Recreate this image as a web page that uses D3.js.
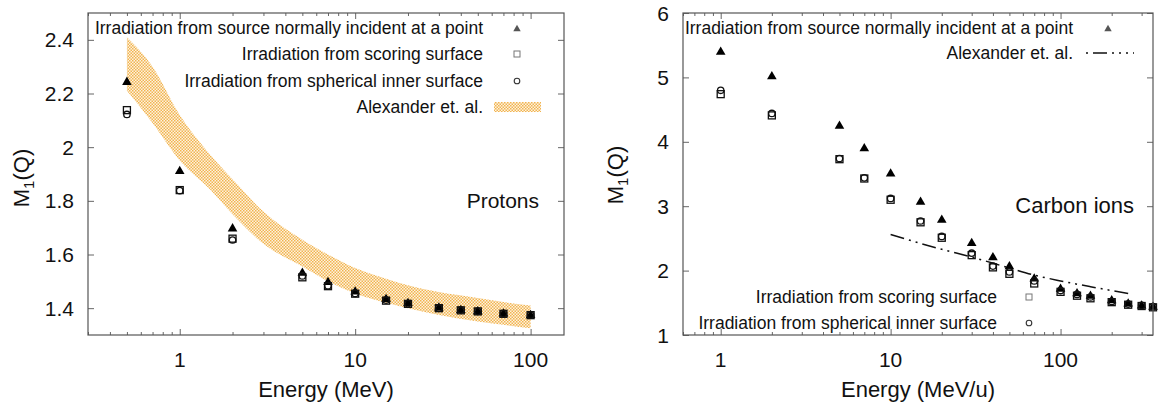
<!DOCTYPE html>
<html>
<head>
<meta charset="utf-8">
<script src="https://cdn.jsdelivr.net/npm/d3@7"></script>
<style>
  body { margin: 0; background: #fff; }
  svg { display: block; }
  text { font-family: "Liberation Sans", Arial, sans-serif; fill: #111; }
</style>
</head>
<body>
<svg id="chart" width="1158" height="408"></svg>
<script>
// ---- protons panel
const protonE = [0.5, 1, 2, 5, 7, 10, 15, 20, 30, 40, 50, 70, 100];
const protonPoint = [2.246, 1.914, 1.70, 1.535, 1.50, 1.465, 1.437, 1.422, 1.405, 1.396, 1.391, 1.383, 1.377];
const protonScoring = [2.138, 1.840, 1.659, 1.515, 1.482, 1.454, 1.428, 1.416, 1.400, 1.392, 1.388, 1.379, 1.374];
const protonSphere = [2.122, 1.838, 1.654, 1.520, 1.484, 1.455, 1.430, 1.417, 1.401, 1.393, 1.388, 1.380, 1.375];
// Alexander et. al. band (lower / upper edge)
const bandE = [0.5, 0.7, 1, 1.5, 2, 3, 5, 7, 10, 15, 20, 30, 50, 70, 100];
const bandLow = [2.21, 2.09, 1.95, 1.84, 1.75, 1.64, 1.555, 1.50, 1.455, 1.42, 1.40, 1.375, 1.35, 1.338, 1.325];
const bandHigh = [2.41, 2.30, 2.12, 1.97, 1.88, 1.76, 1.655, 1.60, 1.55, 1.51, 1.485, 1.46, 1.438, 1.423, 1.41];
const protonYTicks = [1.4, 1.6, 1.8, 2, 2.2, 2.4];

// ---- carbon panel
const carbonE = [1, 2, 5, 7, 10, 15, 20, 30, 40, 50, 70, 100, 125, 150, 200, 250, 300, 350];
const carbonPoint = [5.41, 5.03, 4.26, 3.91, 3.52, 3.08, 2.80, 2.44, 2.22, 2.08, 1.89, 1.73, 1.66, 1.62, 1.55, 1.50, 1.47, 1.45];
const carbonScoring = [4.74, 4.41, 3.73, 3.43, 3.10, 2.75, 2.51, 2.24, 2.05, 1.95, 1.80, 1.67, 1.61, 1.57, 1.51, 1.47, 1.45, 1.43];
const carbonSphere = [4.80, 4.44, 3.74, 3.44, 3.12, 2.77, 2.53, 2.27, 2.07, 1.98, 1.84, 1.69, 1.63, 1.59, 1.52, 1.48, 1.46, 1.44];
const carbonAlexE = [10, 20, 30, 50, 70, 100, 150, 200, 250];
const carbonAlex = [2.56, 2.33, 2.21, 2.04, 1.93, 1.84, 1.75, 1.69, 1.645];
const carbonYTicks = [1, 2, 3, 4, 5, 6];

const xTicks = [1, 10, 100];

const svg = d3.select("#chart");
const defs = svg.append("defs");
// checkered fill like gnuplot's pattern
const pat = defs.append("pattern").attr("id", "chk")
  .attr("width", 3).attr("height", 3).attr("patternUnits", "userSpaceOnUse");
pat.append("rect").attr("width", 3).attr("height", 3).attr("fill", "#fdf3e0");
pat.append("rect").attr("width", 1.5).attr("height", 1.5).attr("fill", "#f2b450");
pat.append("rect").attr("x", 1.5).attr("y", 1.5).attr("width", 1.5).attr("height", 1.5).attr("fill", "#f2b450");

function minorTicks(dom) {
  let out = [];
  for (let p = -1; p <= 3; p++) {
    for (let k = 2; k <= 9; k++) {
      let v = k * Math.pow(10, p);
      if (v > dom[0] && v < dom[1]) out.push(v);
    }
  }
  return out;
}

function panel(cfg) {
  const x = d3.scaleLog().domain(cfg.xDom).range([cfg.x0, cfg.x1]);
  const y = d3.scaleLinear().domain(cfg.yDom).range([cfg.y1, cfg.y0]);
  const g = svg.append("g");

  // axes, ticks drawn inward and mirrored
  const mk = (axis, tr) => {
    const a = g.append("g").attr("transform", tr).call(axis);
    a.select(".domain").remove();
    a.selectAll("line").attr("stroke", "#666");
    return a;
  };
  const minors = minorTicks(cfg.xDom);
  mk(d3.axisBottom(x).tickValues(xTicks).tickSize(-6).tickFormat(""), `translate(0,${cfg.y1})`);
  mk(d3.axisBottom(x).tickValues(minors).tickSize(-3).tickFormat(""), `translate(0,${cfg.y1})`);
  mk(d3.axisTop(x).tickValues(xTicks).tickSize(-6).tickFormat(""), `translate(0,${cfg.y0})`);
  mk(d3.axisTop(x).tickValues(minors).tickSize(-3).tickFormat(""), `translate(0,${cfg.y0})`);
  mk(d3.axisLeft(y).tickValues(cfg.yTicks).tickSize(-6).tickFormat(""), `translate(${cfg.x0},0)`);
  mk(d3.axisRight(y).tickValues(cfg.yTicks).tickSize(-6).tickFormat(""), `translate(${cfg.x1},0)`);

  g.selectAll(".xl").data(xTicks).join("text")
    .attr("x", d => x(d)).attr("y", 367)
    .attr("text-anchor", "middle").attr("font-size", 21)
    .text(d => d);
  g.selectAll(".yl").data(cfg.yTicks).join("text")
    .attr("x", cfg.x0 - 14).attr("y", d => y(d)).attr("dy", "0.36em")
    .attr("text-anchor", "end").attr("font-size", 21)
    .text(d => d);

  g.append("text").attr("x", (cfg.x0 + cfg.x1) / 2).attr("y", 397)
    .attr("text-anchor", "middle").attr("font-size", 22).text(cfg.xTitle);
  const yt = g.append("text")
    .attr("transform", `translate(${cfg.ylx},${cfg.yly}) rotate(-90)`)
    .attr("text-anchor", "middle").attr("font-size", 22);
  yt.append("tspan").text("M");
  yt.append("tspan").attr("font-size", 15).attr("dy", 5).text("1");
  yt.append("tspan").attr("dy", -5).text("(Q)");

  g.append("text").attr("x", cfg.tagX).attr("y", cfg.tagY)
    .attr("text-anchor", "end").attr("font-size", cfg.tagSize).text(cfg.tag);

  return {x, y, g};
}

function triangle(sel, size, fill) {
  return sel.attr("d", d3.symbol(d3.symbolTriangle).size(size)()).attr("fill", fill);
}

function markers(p, E, tri, sq, circ) {
  const g = p.g.append("g");
  g.selectAll(".t").data(E).join("path")
    .call(s => triangle(s, 40, "#000"))
    .attr("transform", (d, i) => `translate(${p.x(d)},${p.y(tri[i]) + 1})`);
  g.selectAll(".s").data(E).join("rect")
    .attr("x", d => p.x(d) - 3.5).attr("y", (d, i) => p.y(sq[i]) - 3.5)
    .attr("width", 7).attr("height", 7)
    .attr("fill", "none").attr("stroke", "#111").attr("stroke-width", 1.3);
  g.selectAll(".c").data(E).join("circle")
    .attr("cx", d => p.x(d)).attr("cy", (d, i) => p.y(circ[i]))
    .attr("r", 3.2).attr("fill", "none").attr("stroke", "#111").attr("stroke-width", 1.3);
}

function legendRow(g, tx, yy, label) {
  g.append("text").attr("x", tx).attr("y", yy).attr("dy", "0.36em")
    .attr("text-anchor", "end").attr("font-size", 17.5).text(label);
}

// ---------------- protons
const P = panel({
  x0: 88, x1: 564, y0: 13, y1: 335, xDom: [0.3, 155], yDom: [1.3, 2.5],
  yTicks: protonYTicks, xTitle: "Energy (MeV)", ylx: 29, yly: 178,
  tag: "Protons", tagX: 539, tagY: 208, tagSize: 21
});

const band = bandE.map((e, i) => ({e, lo: bandLow[i], hi: bandHigh[i]}));
P.g.append("path").datum(band)
  .attr("d", d3.area().curve(d3.curveMonotoneX)
    .x(d => P.x(d.e)).y0(d => P.y(d.lo)).y1(d => P.y(d.hi)))
  .attr("fill", "url(#chk)");

markers(P, protonE, protonPoint, protonScoring, protonSphere);

const LP = P.g.append("g");
const lpRows = [28, 54, 81, 107];
legendRow(LP, 483, lpRows[0], "Irradiation from source normally incident at a point");
legendRow(LP, 483, lpRows[1], "Irradiation from scoring surface");
legendRow(LP, 483, lpRows[2], "Irradiation from spherical inner surface");
legendRow(LP, 483, lpRows[3], "Alexander et. al.");
LP.append("path").call(s => triangle(s, 24, "#555"))
  .attr("transform", `translate(517,${lpRows[0] + 1})`);
LP.append("rect").attr("x", 514).attr("y", lpRows[1] - 3).attr("width", 6).attr("height", 6)
  .attr("fill", "none").attr("stroke", "#777").attr("stroke-width", 1);
LP.append("circle").attr("cx", 517).attr("cy", lpRows[2]).attr("r", 2.8)
  .attr("fill", "none").attr("stroke", "#333").attr("stroke-width", 1.1);
LP.append("rect").attr("x", 494).attr("y", lpRows[3] - 5).attr("width", 47).attr("height", 10)
  .attr("fill", "url(#chk)");

// ---------------- carbon ions
const C = panel({
  x0: 683, x1: 1153, y0: 13, y1: 335, xDom: [0.6, 350], yDom: [1, 6],
  yTicks: carbonYTicks, xTitle: "Energy (MeV/u)", ylx: 623, yly: 175,
  tag: "Carbon ions", tagX: 1134, tagY: 213, tagSize: 22
});

C.g.append("path").datum(carbonAlexE.map((e, i) => [e, carbonAlex[i]]))
  .attr("d", d3.line().curve(d3.curveMonotoneX).x(d => C.x(d[0])).y(d => C.y(d[1])))
  .attr("fill", "none").attr("stroke", "#111").attr("stroke-width", 1.5)
  .attr("stroke-dasharray", "14,5,2,5,2,5");

markers(C, carbonE, carbonPoint, carbonScoring, carbonSphere);

const LC = C.g.append("g");
legendRow(LC, 1073, 28, "Irradiation from source normally incident at a point");
legendRow(LC, 1073, 53, "Alexander et. al.");
LC.append("path").call(s => triangle(s, 24, "#555"))
  .attr("transform", "translate(1108,29)");
LC.append("line").attr("x1", 1086).attr("x2", 1134).attr("y1", 53).attr("y2", 53)
  .attr("stroke", "#111").attr("stroke-width", 1.5).attr("stroke-dasharray", "2,5,14,5,2,5,2,5");
legendRow(LC, 997, 297, "Irradiation from scoring surface");
legendRow(LC, 997, 323, "Irradiation from spherical inner surface");
LC.append("rect").attr("x", 1026).attr("y", 294).attr("width", 6).attr("height", 6)
  .attr("fill", "none").attr("stroke", "#777").attr("stroke-width", 1);
LC.append("circle").attr("cx", 1029).attr("cy", 323).attr("r", 2.8)
  .attr("fill", "none").attr("stroke", "#333").attr("stroke-width", 1.1);

// frames on top
[P, C].forEach(p => {
  const xr = p.x.range(), yr = p.y.range();
  p.g.append("rect").attr("x", xr[0]).attr("y", yr[1])
    .attr("width", xr[1] - xr[0]).attr("height", yr[0] - yr[1])
    .attr("fill", "none").attr("stroke", "#555").attr("stroke-width", 1.2);
});
</script>
</body>
</html>
